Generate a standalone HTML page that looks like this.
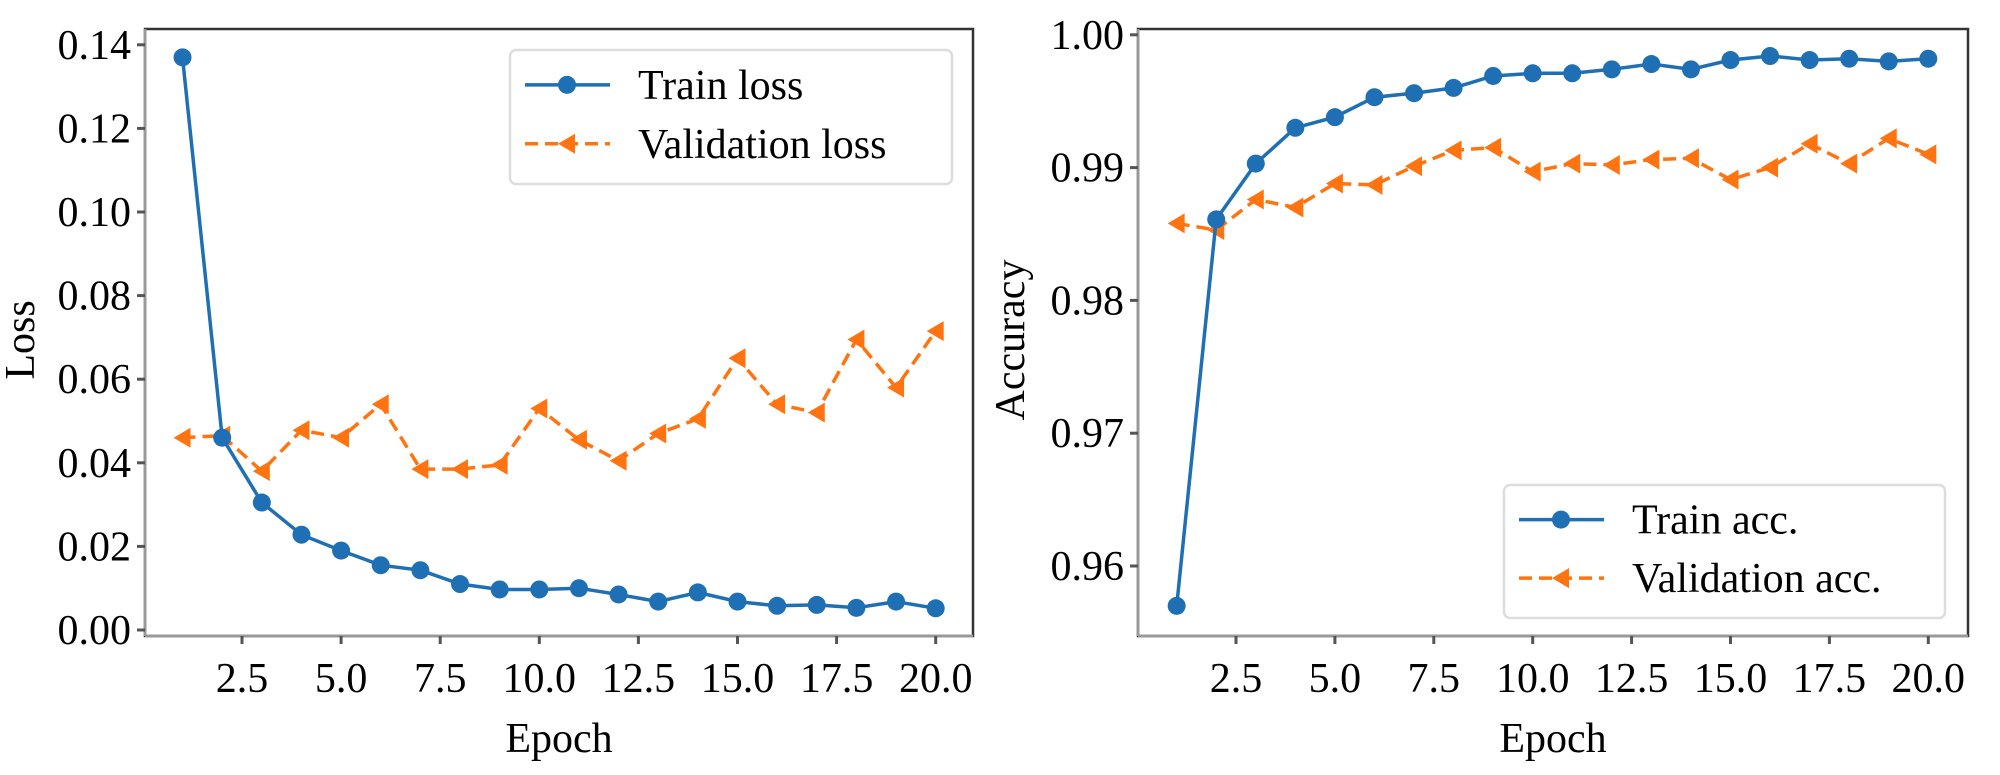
<!DOCTYPE html>
<html><head><meta charset="utf-8"><style>
html,body{margin:0;padding:0;background:#fff;width:2000px;height:775px;overflow:hidden}
svg{display:block}
text{font-family:"Liberation Serif",serif;fill:#000}
</style></head><body>
<svg id="fig" width="2000" height="775" viewBox="0 0 2000 775" xmlns="http://www.w3.org/2000/svg"></svg>
<script>
const epochs=[1,2,3,4,5,6,7,8,9,10,11,12,13,14,15,16,17,18,19,20];
const trainLoss=[0.137,0.046,0.0305,0.0228,0.019,0.0155,0.0143,0.011,0.0097,0.0097,0.0100,0.0085,0.0068,0.009,0.0068,0.0058,0.006,0.0053,0.0068,0.0052];
const valLoss=[0.046,0.0465,0.038,0.0478,0.046,0.054,0.0385,0.0385,0.0395,0.053,0.0455,0.0405,0.047,0.0505,0.065,0.054,0.052,0.0695,0.058,0.0715];
const trainAcc=[0.9570,0.9861,0.9903,0.9930,0.9938,0.9953,0.9956,0.9960,0.9969,0.9971,0.9971,0.9974,0.9978,0.9974,0.9981,0.9984,0.9981,0.9982,0.9980,0.9982];
const valAcc=[0.9858,0.9853,0.9876,0.9870,0.9888,0.9887,0.9901,0.9913,0.9915,0.9897,0.9903,0.9902,0.9906,0.9907,0.9891,0.9900,0.9918,0.9903,0.9922,0.9910];
const xTicks=[2.5,5.0,7.5,10.0,12.5,15.0,17.5,20.0];
const lossTicks=[0.00,0.02,0.04,0.06,0.08,0.10,0.12,0.14];
const accTicks=[0.96,0.97,0.98,0.99,1.00];

const NS="http://www.w3.org/2000/svg";
const svg=document.getElementById('fig');
function mk(tag,attrs,parent){const e=document.createElementNS(NS,tag);for(const k in attrs)e.setAttribute(k,attrs[k]);(parent||svg).appendChild(e);return e;}
const BLUE="#1f6fb4",ORANGE="#ff7410";

function panel(cfg){
  const g=mk('g',{});
  
  
  const L=cfg.L,R=cfg.R,T=29,B=636;
  const xs=v=>cfg.x0+(v-2.5)*cfg.xk;
  const ys=v=>cfg.y0-(v-cfg.ymin)*cfg.yk;
  const frame=mk('rect',{x:L,y:T,width:R-L,height:B-T,fill:'none',stroke:'#333','stroke-width':2.5},g);
  
  
  mk('line',{x1:L,y1:T,x2:L,y2:B,stroke:'#999','stroke-width':3},g);
  mk('line',{x1:L,y1:B,x2:R,y2:B,stroke:'#999','stroke-width':3},g);
  cfg.yt.forEach(v=>{
    const y=ys(v);
    mk('line',{x1:L-8,y1:y,x2:L,y2:y,stroke:'#555','stroke-width':3},g);
    const t=mk('text',{x:L-14,y:y+14,'font-size':42,'text-anchor':'end'},g);
    t.textContent=v.toFixed(2);
    
    
  });
  xTicks.forEach(v=>{
    const x=xs(v);
    mk('line',{x1:x,y1:B,x2:x,y2:B+8,stroke:'#555','stroke-width':3},g);
    const t=mk('text',{x:x,y:692,'font-size':42,'text-anchor':'middle'},g);
    t.textContent=v.toFixed(1);
    
    
  });
  const xl=mk('text',{x:(L+R)/2,y:752,'font-size':42,'text-anchor':'middle'},g);
  xl.textContent='Epoch';
  
  
  const yl=mk('text',{x:0,y:0,'font-size':42,'text-anchor':'middle',transform:`translate(${cfg.ylx},340) rotate(-90)`},g);
  yl.textContent=cfg.ylabel;
  
  
  // series
  const tp=cfg.train.map((v,i)=>xs(epochs[i]).toFixed(1)+','+ys(v).toFixed(1)).join(' ');
  const vp=cfg.val.map((v,i)=>xs(epochs[i]).toFixed(1)+','+ys(v).toFixed(1)).join(' ');
  const vl=mk('polyline',{points:vp,fill:'none',stroke:ORANGE,'stroke-width':3.5,'stroke-dasharray':'13,7'},g);
  
  
  cfg.val.forEach((v,i)=>{
    const x=xs(epochs[i]),y=ys(v);
    const m=mk('polygon',{points:`${x-9},${y} ${x+8},${y-10} ${x+8},${y+10}`,fill:ORANGE},g);
    
    
  });
  const tl=mk('polyline',{points:tp,fill:'none',stroke:BLUE,'stroke-width':3.5},g);
  
  
  cfg.train.forEach((v,i)=>{
    const c=mk('circle',{cx:xs(epochs[i]),cy:ys(v),r:9,fill:BLUE},g);
    
    
  });
  // legend
  const lg=mk('g',{},g);
  
  
  const b=cfg.leg;
  mk('rect',{x:b.x,y:b.y,width:b.w,height:b.h,rx:6,fill:'#fff',stroke:'#ddd','stroke-width':2.5},lg);
  const y1=b.y+b.h*0.26,y2=b.y+b.h*0.7;
  mk('line',{x1:b.x+15,y1:y1,x2:b.x+100,y2:y1,stroke:BLUE,'stroke-width':3.5},lg);
  mk('circle',{cx:b.x+57,cy:y1,r:9,fill:BLUE},lg);
  mk('line',{x1:b.x+15,y1:y2,x2:b.x+100,y2:y2,stroke:ORANGE,'stroke-width':3.5,'stroke-dasharray':'13,7'},lg);
  mk('polygon',{points:`${b.x+48},${y2} ${b.x+65},${y2-10} ${b.x+65},${y2+10}`,fill:ORANGE},lg);
  const t1=mk('text',{x:b.x+128,y:y1+14,'font-size':42},lg);t1.textContent=cfg.l1;
  
  
  const t2=mk('text',{x:b.x+128,y:y2+14,'font-size':42},lg);t2.textContent=cfg.l2;
  
  
}
panel({name:'loss-chart',L:145,R:973,x0:242,xk:99.1/2.5,y0:630,ymin:0,yk:41.8/0.01,yt:lossTicks,
  train:trainLoss,val:valLoss,ylabel:'Loss',ylx:34,
  leg:{x:510,y:50,w:442,h:134},l1:'Train loss',l2:'Validation loss'});
panel({name:'accuracy-chart',L:1138,R:1968,x0:1236,xk:98.9/2.5,y0:566,ymin:0.96,yk:132.8/0.01,yt:accTicks,
  train:trainAcc,val:valAcc,ylabel:'Accuracy',ylx:1024,
  leg:{x:1504,y:485,w:441,h:133},l1:'Train acc.',l2:'Validation acc.'});
</script>
</body></html>
